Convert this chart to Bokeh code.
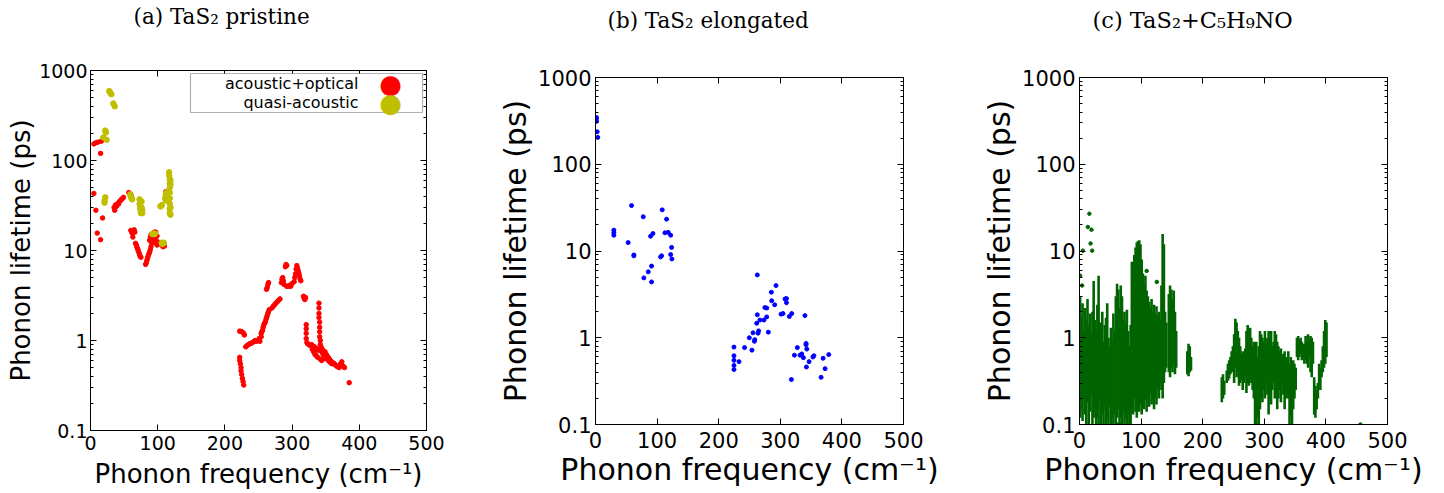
from bokeh.plotting import figure
from bokeh.models import (FixedTicker, Label, BoxAnnotation, Range1d, CustomJSTickFormatter,
                          LinearAxis, LogAxis, ColorBar, LinearColorMapper)
from bokeh.embed import file_html
from bokeh.resources import INLINE

# ---------------- data ----------------
titles = ["(a) TaS\u2082 pristine", "(b) TaS\u2082 elongated", "(c) TaS\u2082+C\u2085H\u2089NO"]
x_label = "Phonon frequency (cm\u207b\u00b9)"
y_label = "Phonon lifetime (ps)"
x_ticks = [0, 100, 200, 300, 400, 500]
y_ticks = [0.1, 1, 10, 100, 1000]
legend_labels = ["acoustic+optical", "quasi-acoustic"]

# (a) pristine: acoustic+optical (red)
a_red_freq = [5, 8, 11, 16, 15, 5, 8, 18, 10, 15,
              35, 36, 37, 39, 40, 42, 43, 45, 46, 48, 49, 57, 58, 60, 61,
              60, 62, 63, 65, 66, 67, 68, 69, 70, 71, 72, 73, 74, 75,
              82, 83, 84, 85, 86, 87, 88, 89, 90, 91, 92, 93, 94, 95, 96, 97, 98, 99, 100,
              88, 89, 90, 97, 99, 104, 106, 108, 110, 112, 113,
              222, 222, 223, 224, 224, 225, 226, 227, 228,
              222, 224, 226, 228, 229,
              231, 233, 235, 237, 239, 241, 243, 245, 247, 249, 251, 252, 254,
              254, 255, 256, 257, 258, 259, 260, 261, 262, 263, 264, 265, 266,
              262, 263, 264, 265,
              270, 272, 274, 276, 278, 280, 282,
              284, 285, 286, 287, 288, 290, 291, 292,
              292, 294, 296, 298, 300,
              303, 304, 305, 306, 307, 308, 309, 310, 311, 312, 313,
              317, 318, 319, 320, 321, 321, 321, 321, 322,
              323, 325, 327, 329, 331, 333, 335, 337, 339,
              340, 340, 340, 340, 341, 341, 341, 341, 342, 342,
              343, 344, 345, 346, 347, 348, 349, 350, 351, 352, 353, 354, 355, 356, 357,
              358, 359, 360, 362, 364, 366, 368, 370, 372, 374, 376, 378,
              330, 332, 334, 336, 338, 342, 344, 346, 385]
a_red_life = [153, 157, 160, 164, 120, 43, 28, 23, 15.6, 13.2,
              30, 28, 32, 31, 33, 33, 35, 36, 37, 38, 39, 44, 43, 42, 40,
              16.7, 15.5, 14.1, 17, 16, 12, 11.6, 11, 10.5, 10, 9.5, 9, 8.6, 8.4,
              7.0, 7.3, 7.8, 8.3, 8.8, 9.2, 9.6, 10.2, 11, 12, 13, 14, 15.5, 16, 14.5, 13, 12, 11.5, 12.5,
              13, 14, 15, 16, 14.5, 11.8, 11.5, 11, 11.2, 45, 44,
              0.65, 0.6, 0.55, 0.5, 0.46, 0.42, 0.38, 0.35, 0.32,
              1.27, 1.26, 1.24, 1.2, 1.15,
              0.85, 0.88, 0.9, 0.92, 0.93, 0.95, 0.97, 1.0, 0.98, 1.0, 1.05, 0.98, 1.1,
              1.2, 1.25, 1.3, 1.4, 1.5, 1.55, 1.6, 1.7, 1.8, 1.9, 2.0, 2.1, 2.2,
              3.7, 3.9, 4.2, 4.4,
              2.3, 2.4, 2.5, 2.6, 2.7, 2.8, 2.9,
              4.4, 4.8, 5.0, 4.6, 4.2, 6.6, 7.0, 6.8,
              4.0, 4.0, 4.1, 4.0, 4.3,
              4.5, 5.0, 5.5, 6.2, 6.8, 6.4, 6.0, 5.6, 5.2, 4.8, 4.6,
              3.1, 2.95, 2.85, 3.0, 1.5, 1.35, 1.2, 1.05, 0.95,
              0.92, 0.9, 0.88, 0.9, 0.87, 0.85, 0.83, 0.8, 0.78,
              2.6, 2.3, 2.0, 1.8, 1.6, 1.4, 1.25, 1.1, 1.0, 0.9,
              0.85, 0.75, 0.8, 0.7, 0.72, 0.68, 0.75, 0.65, 0.7, 0.62, 0.66, 0.6, 0.63, 0.58, 0.6,
              0.56, 0.58, 0.55, 0.56, 0.54, 0.52, 0.51, 0.5, 0.55, 0.58, 0.52, 0.5,
              0.8, 0.75, 0.7, 0.68, 0.65, 0.62, 0.6, 0.62, 0.34]

# (a) pristine: quasi-acoustic (yellow)
a_yel_freq = [28, 29, 31, 34, 36, 22, 23, 19, 24, 22, 21, 21,
              59, 60, 61, 62, 73, 73, 74, 74, 75, 75, 76, 76, 77, 77,
              104, 105, 106, 111, 112, 112, 113, 114,
              117, 117, 118, 118, 118, 118, 118, 118, 118, 118, 119, 119, 119, 119,
              92, 93, 94, 95, 96, 106, 107, 108, 109]
a_yel_life = [590, 570, 545, 430, 400, 215, 205, 180, 170, 39, 34, 36,
              42, 40, 38, 37, 37, 33, 31, 29, 27, 26, 35, 30, 28, 26,
              31, 31, 32, 38, 42, 36, 44, 40,
              74, 68, 62, 56, 50, 44, 38, 33, 29, 26, 60, 54, 30, 25,
              15.2, 15.4, 15.3, 15.2, 15.4, 12.2, 11.8, 12, 12.2]

# (b) elongated (blue)
b_freq = [1.6, 1.6, 1.2, 2.7, 3.8, 29.8, 29.8, 29.8, 53, 58.5, 62.3, 62.3, 77.5, 78.5,
          85.6, 89.4, 91, 91, 93.2, 105.6, 107.3, 108.3, 112.7, 115.4, 118, 122, 122,
          123.5, 124,
          224.8, 224.8, 224.8, 224.8, 224.8, 233, 242, 249.7, 254, 255.7, 258, 258.5,
          261.7, 262.7, 262.7, 263.8, 264.8, 266.9, 273.5, 275, 278, 277.9, 280.6,
          285.5, 286, 290.9, 293, 301.2, 304.4, 307.7, 310, 310, 314.7, 318.5, 318,
          322.9, 327.7, 332, 334.8, 337.5, 340, 341.8, 341.8, 343, 342.4, 346.7, 353,
          354.5, 366.2, 369.5, 372.7, 378.7]
b_life = [346, 313, 330, 237, 204, 17.4, 16.2, 15.2, 12.5, 33.4, 9.0, 8.8, 24.8, 4.9,
          5.75, 14.8, 6.7, 4.4, 15.9, 8.55, 8.8, 29.8, 16.2, 23.3, 16.4, 15.2, 9.1,
          11, 8.1,
          0.78, 0.62, 0.55, 0.48, 0.43, 0.53, 0.77, 1.0, 0.72, 1.14, 0.91, 0.95,
          1.47, 1.84, 5.3, 1.13, 1.2, 1.6, 1.6, 2.23, 2.2, 1.74, 1.16,
          3.35, 2.67, 2.4, 4.0, 1.87, 1.9, 2.8, 2.83, 2.54, 1.76, 1.9, 0.33,
          0.63, 0.77, 0.63, 0.65, 0.59, 1.8, 0.86, 0.83, 0.74, 0.46, 0.53, 0.6,
          0.62, 0.35, 0.58, 0.44, 0.64]

# (c) with C5H9NO (green): dense vertical streaks of points (freq, lowest, highest)
c_streak_freq = [1, 3, 5, 7, 9, 11, 13, 15, 17, 19, 21, 23, 25, 27, 29, 31, 33, 35, 37, 39,
                 41, 43, 45, 47, 49, 51, 53, 55, 57, 59, 61, 63, 65, 67, 69, 71, 73, 75, 77,
                 79, 81, 83,
                 85, 87, 89, 91, 93, 95, 97, 99, 101, 103, 105, 107, 109, 111, 113, 115, 117,
                 119, 121, 123, 125, 127, 129, 131, 133, 135, 137, 139, 141,
                 145, 147, 149, 151, 153, 155, 157,
                 175, 177, 179, 181,
                 231, 233, 235,
                 239, 241, 243, 245, 247, 249, 251, 253, 255, 257, 259, 261, 263, 265, 267,
                 269, 271, 273, 275, 277, 279, 281, 283, 285, 287, 289, 291, 293, 295, 297,
                 299, 301, 303, 305, 307, 309, 311, 313, 315, 317, 319, 321, 323, 325, 327,
                 329, 331, 333, 335, 337, 339, 341, 343, 345, 347, 349, 351, 353, 355, 357,
                 359, 361, 363, 365, 367, 369, 371, 373, 375, 377, 379, 381, 383, 385, 387,
                 389, 391, 393, 395, 397, 399, 401]
c_streak_lo = [0.12, 0.15, 0.11, 0.2, 0.13, 0.1, 0.18, 0.1, 0.14, 0.22, 0.1, 0.12, 0.16, 0.1,
               0.12, 0.1, 0.2, 0.1, 0.13, 0.1, 0.15, 0.1, 0.12, 0.1, 0.16, 0.1, 0.12, 0.1,
               0.13, 0.1, 0.12, 0.15, 0.1, 0.12, 0.1, 0.14, 0.1, 0.12, 0.1, 0.13, 0.1, 0.1,
               0.15, 0.13, 0.2, 0.14, 0.12, 0.2, 0.14, 0.17, 0.13, 0.2, 0.15, 0.19, 0.14,
               0.2, 0.16, 0.22, 0.17, 0.19, 0.15, 0.2, 0.17, 0.25, 0.2, 0.3, 0.25, 0.2, 0.3,
               0.4, 0.45,
               0.4, 0.35, 0.45, 0.4, 0.5, 0.38, 0.45,
               0.38, 0.36, 0.4, 0.42,
               0.18, 0.2, 0.22,
               0.3, 0.32, 0.34, 0.38, 0.4, 0.42, 0.3, 0.45, 0.35, 0.4, 0.28, 0.3, 0.33,
               0.25, 0.3, 0.35, 0.23, 0.3, 0.28, 0.35, 0.3, 0.25, 0.2, 0.1, 0.1, 0.12, 0.1,
               0.15, 0.2, 0.18, 0.25, 0.2, 0.3, 0.22, 0.13, 0.2, 0.17, 0.25, 0.3, 0.2, 0.22,
               0.15, 0.2, 0.25, 0.18, 0.3, 0.22, 0.15, 0.2, 0.25, 0.2, 0.1, 0.12, 0.1, 0.15,
               0.2, 0.25, 0.6, 0.55, 0.6, 0.65, 0.55, 0.6, 0.5, 0.55, 0.5, 0.45, 0.6, 0.4,
               0.35, 0.5, 0.13, 0.12, 0.15, 0.2, 0.3, 0.25, 0.35, 0.4, 0.45, 0.5, 0.6]
c_streak_hi = [3.0, 1.8, 2.5, 1.2, 2.2, 1.6, 2.8, 1.4, 1.9, 1.1, 2.0, 4.5, 1.6, 1.2, 2.4,
               5.2, 1.5, 1.0, 2.0, 0.9, 1.4, 1.7, 2.5, 1.0, 0.8, 1.3, 0.9, 1.9, 1.2, 3.0,
               4.2, 3.6, 2.2, 4.0, 3.0, 1.6, 2.0, 1.5, 2.1, 1.2, 0.8, 1.4,
               7.5, 5.0, 9.0, 11.0, 12.5, 13.0, 13.3, 12.0, 8.0, 5.5, 4.0, 5.2, 3.5, 3.0,
               2.6, 2.2, 2.8, 2.0, 2.4, 1.9, 2.3, 1.8, 2.0, 1.6, 4.0, 15.7, 12.0, 2.0, 1.5,
               3.2, 4.0, 3.6, 2.8, 3.5, 2.0, 1.2,
               0.7, 0.85, 0.8, 0.6,
               0.35, 0.38, 0.32,
               0.42, 0.5, 0.55, 0.6, 0.7, 0.8, 1.1, 1.66, 1.5, 1.2, 1.0, 0.8, 0.65, 0.7,
               0.55, 0.75, 1.2, 1.4, 0.9, 1.3, 1.0, 0.8, 0.9, 0.7, 0.9, 0.6, 0.8, 1.2, 1.1,
               1.0, 0.9, 1.2, 0.8, 1.0, 1.2, 1.0, 1.2, 0.8, 0.9, 1.2, 1.1, 0.9, 0.8, 0.7,
               0.75, 0.6, 0.65, 0.7, 0.6, 0.55, 0.7, 0.5, 0.6, 0.4, 0.55, 0.5, 0.45, 1.0,
               1.05, 0.95, 1.0, 0.9, 0.8, 0.85, 1.05, 0.9, 1.1, 0.95, 1.05, 1.0, 0.9, 0.35,
               0.28, 0.25, 0.3, 0.5, 0.45, 0.55, 0.8, 1.2, 1.6, 1.5]
c_pt_freq = [16, 13.5, 19.5, 18, 20.6, 5.4, 1, 4.3, 109, 125.5, 456, 62, 66]
c_pt_life = [26.9, 18.9, 17.6, 12.2, 10.1, 10.1, 5.2, 4.0, 5.9, 4.4, 0.1, 0.1, 0.1]

# ---------------- styling helpers ----------------
FONT = "DejaVu Sans"
SERIF = "DejaVu Serif"
minor_log = [m * 10.0 ** e for e in range(-1, 3) for m in range(2, 10)]


def style_axis(ax, tick_fs, label_fs, tick_std, label_std, is_log=False):
    ax.ticker = FixedTicker(ticks=y_ticks if is_log else x_ticks,
                            minor_ticks=minor_log if is_log else [])
    ax.axis_line_color = "black"
    ax.major_tick_line_color = "black"
    ax.minor_tick_line_color = "black"
    ax.major_tick_in = 6
    ax.major_tick_out = 0
    ax.minor_tick_in = 3
    ax.minor_tick_out = 0
    ax.major_label_standoff = tick_std
    ax.major_label_text_font = FONT
    ax.major_label_text_color = "black"
    ax.major_label_text_font_size = f"{tick_fs}px"
    ax.axis_label_text_font = FONT
    ax.axis_label_text_font_style = "normal"
    ax.axis_label_text_font_size = f"{label_fs}px"
    ax.axis_label_text_color = "black"
    ax.axis_label_standoff = label_std
    if is_log:
        ax.formatter = CustomJSTickFormatter(code="return String(tick);")


def tick_only_axis(cls, minor, tick_len):
    # axis with no labelled ticks: only inward marks on the frame edge
    return cls(ticker=FixedTicker(ticks=[], minor_ticks=minor),
               major_tick_in=0, major_tick_out=0,
               minor_tick_in=tick_len, minor_tick_out=0,
               major_label_standoff=0, axis_line_color="black",
               minor_tick_line_color="black")


def blank_gap(height):
    # an invisible, text-free band that keeps the title clear of the frame
    return ColorBar(color_mapper=LinearColorMapper(palette=["#ffffff", "#ffffff"], low=0, high=1),
                    orientation="horizontal", height=height, padding=0, margin=0,
                    ticker=FixedTicker(ticks=[], minor_ticks=[]),
                    major_tick_in=0, major_tick_out=0, label_standoff=0, title_standoff=0,
                    major_tick_line_color=None, minor_tick_line_color=None,
                    bar_line_color=None, border_line_color=None,
                    background_fill_alpha=0, scale_alpha=0)


def make_panel(title, frame_w, frame_h, bl, br, bt, bb, tick_fs, label_fs,
               xstd, xlstd, ystd, ylstd, title_fs, title_offset, gap):
    p = figure(frame_width=frame_w, frame_height=frame_h,
               min_border_left=bl, min_border_right=br,
               min_border_top=bt, min_border_bottom=bb,
               x_range=Range1d(0, 500), y_range=Range1d(0.1, 1000),
               y_axis_type="log", output_backend="svg", toolbar_location=None,
               title=title)
    p.xgrid.visible = False
    p.ygrid.visible = False
    p.outline_line_color = "black"
    p.outline_line_width = 1
    p.background_fill_color = "white"
    p.border_fill_color = "white"
    p.title.text_font = SERIF
    p.title.text_font_style = "normal"
    p.title.text_font_size = f"{title_fs}px"
    p.title.text_color = "black"
    p.title.align = "left"
    p.title.offset = title_offset
    p.title.standoff = 0
    p.title.vertical_align = "bottom"
    style_axis(p.xaxis[0], tick_fs, label_fs, xstd, xlstd)
    style_axis(p.yaxis[0], tick_fs, label_fs, ystd, ylstd, is_log=True)
    p.xaxis.axis_label = x_label
    p.yaxis.axis_label = y_label
    p.add_layout(tick_only_axis(LinearAxis, x_ticks, 6), "above")
    p.add_layout(blank_gap(gap), "above")
    p.add_layout(tick_only_axis(LogAxis, y_ticks, 6), "right")
    p.add_layout(tick_only_axis(LogAxis, minor_log, 3), "right")
    return p


# ---------------- panel (a) ----------------
pa = make_panel(titles[0], 336, 360, 90, 66, 70, 63, 19, 26, 5, 6, 3, 0, 21.5, 43, 42)
pa.scatter(a_red_freq, a_red_life, size=4.5, color="#ff0000", line_color="#ff0000")
pa.scatter(a_yel_freq, a_yel_life, size=5.5, color="#bfbf00", line_color="#bfbf00")
pa.add_layout(BoxAnnotation(left=100, right=332, bottom=318, top=357,
                            left_units="screen", right_units="screen",
                            bottom_units="screen", top_units="screen",
                            fill_color="white", fill_alpha=1.0,
                            line_color="black", line_width=1.2))
for lbl, yy, col in zip(legend_labels, [347, 328], ["#ff0000", "#bfbf00"]):
    pa.add_layout(Label(x=268, y=yy, x_units="screen", y_units="screen", text=lbl,
                        text_align="right", text_baseline="middle",
                        text_font=FONT, text_font_size="16px", text_color="black"))
    pa.add_layout(Label(x=300, y=yy, x_units="screen", y_units="screen", text="\u25cf",
                        text_align="center", text_baseline="middle",
                        text_font=FONT, text_font_size="26px", text_color=col))

# ---------------- panel (b) ----------------
pb = make_panel(titles[1], 308, 347, 103, 73, 77, 69, 21, 30, 7, 1, 4, 2, 21.5, 12, 45)
pb.scatter(b_freq, b_life, size=4, color="#0000ff", line_color="#0000ff")

# ---------------- panel (c) ----------------
pc = make_panel(titles[2], 308, 347, 103, 57, 77, 69, 21, 30, 7, 1, 4, 2, 22.5, 13, 45)
pc.segment(x0=c_streak_freq, y0=c_streak_lo, x1=c_streak_freq, y1=c_streak_hi,
           line_width=2.6, line_color="#006400")
pc.scatter(c_pt_freq, c_pt_life, size=3.5, color="#006400", line_color="#006400")

# the three panels sit side by side, each with its own frame position
TEMPLATE = """
{% block postamble %}
<style>
html, body { margin: 0 !important; padding: 0 !important; }
body { display: flex !important; flex-direction: row; align-items: flex-start; }
</style>
{% endblock %}
"""
open("out.html", "w").write(file_html([pa, pb, pc], INLINE, template=TEMPLATE))
